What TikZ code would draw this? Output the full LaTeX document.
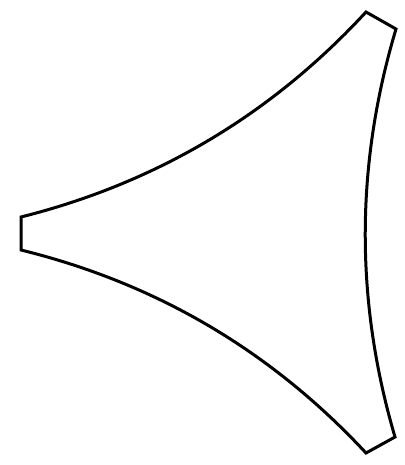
\documentclass[tikz,border=0pt]{standalone}
\begin{document}
\begin{tikzpicture}[x=1pt,y=-1pt,sail/.style={draw=black,line width=3pt,line join=miter,fill=white}]
\useasboundingbox (0,0) rectangle (404,465);
\coordinate (a1) at (366,12);
\coordinate (a2) at (396,29);
\coordinate (b1) at (21,217);
\coordinate (b2) at (21,250);
\coordinate (c1) at (366,453);
\coordinate (c2) at (395,437);
\path[sail] (b1) .. controls (156.3,183) and (271.3,114.7) .. (a1) -- (a2)
  .. controls (355.3,165) and (355,301) .. (c2) -- (c1)
  .. controls (271.3,351) and (156.3,283.3) .. (b2) -- cycle;
\end{tikzpicture}
\end{document}
